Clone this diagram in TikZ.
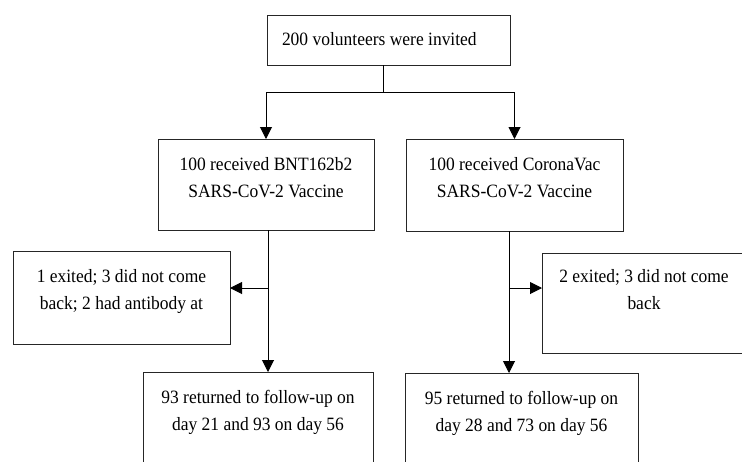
\documentclass[tikz,border=0pt]{standalone}
\usepackage{fontspec}
\setmainfont[FakeStretch=0.93]{Liberation Serif}
\usetikzlibrary{arrows.meta}
\begin{document}
\begin{tikzpicture}[x=1pt,y=-1pt,
  box/.style={draw=black!85, line width=1pt, inner sep=0pt, outer sep=0pt, anchor=north west, font=\fontsize{18.8}{27.5}\selectfont},
  arr/.style={draw=black, line width=1pt, -{Triangle[length=12pt,width=12pt]}},
  ln/.style={draw=black, line width=1pt}]
\useasboundingbox (0,0) rectangle (742,461);
\fill[white] (0,0) rectangle (742,461);
\begin{scope}
\clip (0,0) rectangle (742,461);
\node[box] (top) at (267,15) {\parbox[t][50pt][t]{243pt}{\hspace*{15pt}\rule{0pt}{30pt}200 volunteers were invited}};
\node[box] (bnt) at (158,139) {\parbox[t][91pt][t]{216pt}{\centering\rule{0pt}{31pt}100 received BNT162b2\\SARS-CoV-2 Vaccine}};
\node[box] (cv) at (406,139) {\parbox[t][92pt][t]{217pt}{\centering\rule{0pt}{31pt}100 received CoronaVac\\SARS-CoV-2 Vaccine}};
\node[box] (exl) at (13,251) {\parbox[t][93pt][t]{217pt}{\centering\rule{0pt}{31pt}1 exited; 3 did not come\\back; 2 had antibody at}};
\node[box] (exr) at (542,253) {\parbox[t][100pt][t]{204pt}{\centering\rule{0pt}{29pt}2 exited; 3 did not come\\back}};
\node[box] (bl) at (143,372) {\parbox[t][120pt][t]{230pt}{\centering\rule{0pt}{31pt}93 returned to follow-up on\\day 21 and 93 on day 56}};
\node[box] (br) at (405,373) {\parbox[t][120pt][t]{233pt}{\centering\rule{0pt}{31pt}95 returned to follow-up on\\day 28 and 73 on day 56}};
\coordinate (split) at (383,92);
\draw[ln] (top.south -| split) -- (split);
\draw[arr] (split) -| (bnt.north);
\draw[arr] (split) -| (cv.north);
\coordinate (lv) at (268,288);
\draw[arr] (bnt.south -| lv) -- (bl.north -| lv);
\draw[arr] (lv) -- (exl.east |- lv);
\coordinate (rv) at (509,288);
\draw[arr] (cv.south -| rv) -- (br.north -| rv);
\draw[arr] (rv) -- (exr.west |- rv);
\end{scope}
\end{tikzpicture}
\end{document}
